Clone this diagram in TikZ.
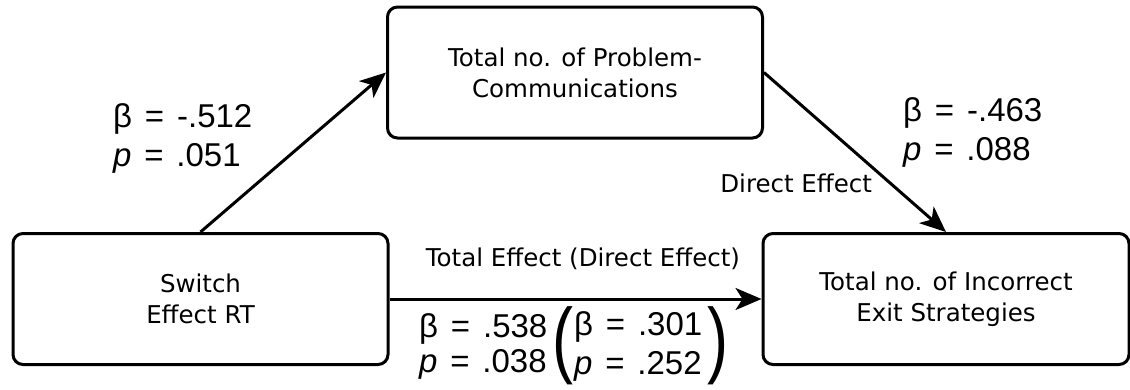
\documentclass[tikz,border=0pt]{standalone}
\usepackage{fontspec}
\setmainfont{DejaVu Sans}
\newfontfamily\statfont[WordSpace=1.4]{Liberation Sans}
\usetikzlibrary{arrows.meta,positioning}

\begin{document}
\begin{tikzpicture}[
    x=1pt, y=-1pt,
    >={Stealth[length=26pt,width=22pt,inset=7pt]},
    font=\fontsize{24.5}{31}\selectfont,
    var/.style={draw, line width=3pt, rounded corners=10pt, minimum width=375pt,
                minimum height=131pt, align=center, inner sep=2pt},
    stat/.style={font=\statfont\fontsize{33}{39}\selectfont, align=left,
                 inner sep=0pt, anchor=west},
    paren/.style={font=\statfont\fontsize{84}{84}\selectfont, inner sep=0pt},
    lbl/.style={inner sep=0pt},
    flow/.style={->, line width=3pt}
  ]
  \useasboundingbox (0,0) rectangle (1130,389);

  % --- variables ---
  \node[var] (sw) at (200.5,299) {Switch\\Effect RT};
  \node[var] (pc) at (575,72.5) {Total no. of Problem-\\Communications};
  \node[var, minimum width=366pt] (ex) at (946,299) {Total no. of Incorrect\\Exit Strategies};

  % --- paths ---
  \draw[flow] (sw.north) -- (pc.west);
  \draw[flow] (pc.east) -- node[lbl, left=17pt, pos=0.695]{Direct Effect} (ex.north);
  \draw[flow] (sw.east) -- node[lbl, above=28pt, pos=0.52]{Total Effect (Direct Effect)} (ex.west);

  % --- coefficients ---
  \node[stat] (a1) at (113,138) {β = -.512\\\textit{p} = .051};
  \node[stat] (b1) at (903,132) {β = -.463\\\textit{p} = .088};
  \node[stat, font=\statfont\fontsize{33}{35}\selectfont] (te) at (419,346)
       {β = .538\\\textit{p} = .038};
  \node[paren, right=5pt of te] (lp) {\scalebox{0.75}[1]{(}};
  \node[stat, right=0pt of lp] (de) {β = .301\\\textit{p} = .252};
  \node[paren, right=5pt of de] (rp) {\scalebox{0.75}[1]{)}};

\end{tikzpicture}
\end{document}
